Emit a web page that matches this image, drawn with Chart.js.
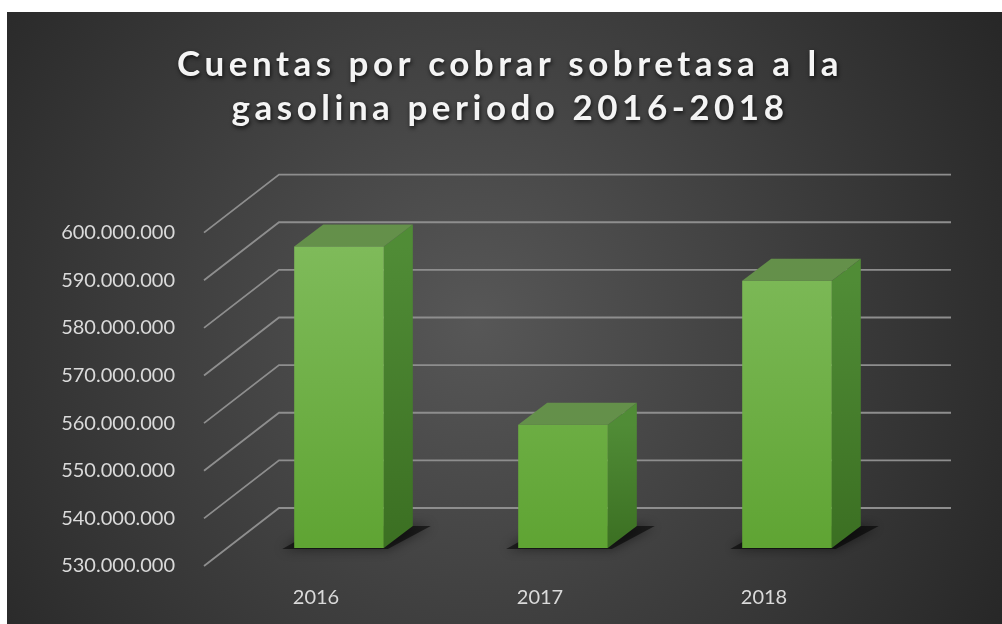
<!DOCTYPE html>
<html>
<head>
<meta charset="utf-8">
<script src="https://cdn.jsdelivr.net/npm/chart.js@4"></script>
<style>
  html, body { margin: 0; background: #fff; }
  #wrap { position: absolute; left: 7px; top: 12px; width: 995px; height: 612px; }
</style>
</head>
<body>
<div id="wrap"><canvas id="chart"></canvas></div>
<script>
var years = ["2016", "2017", "2018"];
var cuentas = [593300000, 555900000, 586100000];
var yMin = 530000000, yMax = 600000000, yStep = 10000000;
var titleLines = ["Cuentas por cobrar sobretasa a la", "gasolina periodo 2016-2018"];

// perspective offsets (pixels)
var WALL_DX = 75, WALL_DY = -58;
var BAR_DX = 23, BAR_DY = -18;
var SIDE_DX = 29, SIDE_DY = -22;
var TITLE_CENTER = 503;

function puntos(v) { return String(v).replace(/\B(?=(\d{3})+(?!\d))/g, "."); }

var fondo = {
  id: "fondo",
  beforeDraw: function (chart) {
    var c = chart.ctx;
    var g = c.createRadialGradient(470, 310, 0, 470, 310, 620);
    g.addColorStop(0, "#575757");
    g.addColorStop(1, "#262626");
    c.save();
    c.fillStyle = g;
    c.fillRect(0, 0, chart.width, chart.height);
    c.restore();
  }
};

var caja3d = {
  id: "caja3d",
  afterInit: function (chart) {
    var t = chart.titleBlock;
    if (!t) return;
    var draw = t.draw;
    t.draw = function () {
      var c = chart.ctx;
      c.save();
      // title box stops at the right padding, so move it back to the middle
      c.translate(TITLE_CENTER - (t.left + t.right) / 2, 0);
      c.letterSpacing = "4.5px";
      c.shadowColor = "rgba(0,0,0,0.75)";
      c.shadowBlur = 4;
      c.shadowOffsetX = 1;
      c.shadowOffsetY = 2;
      draw.apply(this, arguments);
      c.restore();
    };
  },
  beforeDatasetsDraw: function (chart) {
    var c = chart.ctx, a = chart.chartArea, ys = chart.scales.y;
    c.save();
    // back wall grid + left wall slants
    c.strokeStyle = "#8e8e8e";
    c.lineWidth = 1.8;
    ys.ticks.forEach(function (t) {
      var y = ys.getPixelForValue(t.value);
      c.beginPath();
      c.moveTo(a.left, y);
      c.lineTo(a.left + WALL_DX, y + WALL_DY);
      c.lineTo(a.right + WALL_DX, y + WALL_DY);
      c.stroke();
    });
    // shadow, side and top of each bar
    chart.getDatasetMeta(0).data.forEach(function (bar) {
      var p = bar.getProps(["x", "y", "base", "width"], true);
      var l = p.x - p.width / 2 + BAR_DX, r = p.x + p.width / 2 + BAR_DX;
      var top = p.y + BAR_DY, bot = Math.min(p.base, a.bottom) + BAR_DY;

      c.save();
      c.shadowColor = "rgba(0,0,0,0.9)";
      c.shadowBlur = 12;
      c.fillStyle = "rgba(0,0,0,0.55)";
      c.beginPath();
      c.moveTo(l - 12, bot + 1);
      c.lineTo(r + 4, bot + 1);
      c.lineTo(r + SIDE_DX + 18, bot + SIDE_DY);
      c.lineTo(l + SIDE_DX, bot + SIDE_DY);
      c.closePath();
      c.fill();
      c.restore();

      var gs = c.createLinearGradient(0, top, 0, bot);
      gs.addColorStop(0, "#508c36");
      gs.addColorStop(1, "#3b6f22");
      c.fillStyle = gs;
      c.beginPath();
      c.moveTo(r, top);
      c.lineTo(r + SIDE_DX, top + SIDE_DY);
      c.lineTo(r + SIDE_DX, bot + SIDE_DY);
      c.lineTo(r, bot);
      c.closePath();
      c.fill();

      c.fillStyle = "#64904a";
      c.beginPath();
      c.moveTo(l, top);
      c.lineTo(l + SIDE_DX, top + SIDE_DY);
      c.lineTo(r + SIDE_DX, top + SIDE_DY);
      c.lineTo(r, top);
      c.closePath();
      c.fill();
    });
    c.restore();
    // front faces are drawn by Chart.js, shifted into the bar plane
    c.save();
    c.translate(BAR_DX, BAR_DY);
  },
  afterDatasetsDraw: function (chart) {
    chart.ctx.restore();
  }
};

new Chart(document.getElementById("chart"), {
  type: "bar",
  data: {
    labels: years,
    datasets: [{
      data: cuentas,
      base: yMin,
      barPercentage: 0.4,
      categoryPercentage: 1,
      backgroundColor: function (ctx) {
        var a = ctx.chart.chartArea;
        if (!a) return "#6fb045";
        var g = ctx.chart.ctx.createLinearGradient(0, a.top, 0, a.bottom);
        g.addColorStop(0, "#82bd5e");
        g.addColorStop(1, "#5fa433");
        return g;
      },
    }],
  },
  options: {
    responsive: true,
    maintainAspectRatio: false,
    animation: false,
    layout: { padding: { left: 0, right: 126, top: 0, bottom: 0 } },
    plugins: {
      legend: { display: false },
      tooltip: { enabled: false },
      title: {
        display: true,
        text: titleLines,
        color: "#f4f4f4",
        font: { family: "Lato", size: 35, weight: "bold", lineHeight: 1.28 },
        padding: { top: 30, bottom: 101 },
      },
    },
    scales: {
      x: {
        grid: { display: false },
        border: { display: false },
        ticks: { color: "#dadada", font: { family: "Lato", size: 20 }, padding: 12 },
        afterFit: function (s) { s.height = 58; },
      },
      y: {
        min: yMin,
        max: yMax,
        grid: { display: false },
        border: { display: false },
        ticks: {
          stepSize: yStep,
          color: "#dadada",
          font: { family: "Lato", size: 20 },
          padding: 21,
          callback: function (v) { return puntos(v); },
        },
        afterFit: function (s) { s.width = 197; },
      },
    },
  },
  plugins: [fondo, caja3d],
});
</script>
</body>
</html>
